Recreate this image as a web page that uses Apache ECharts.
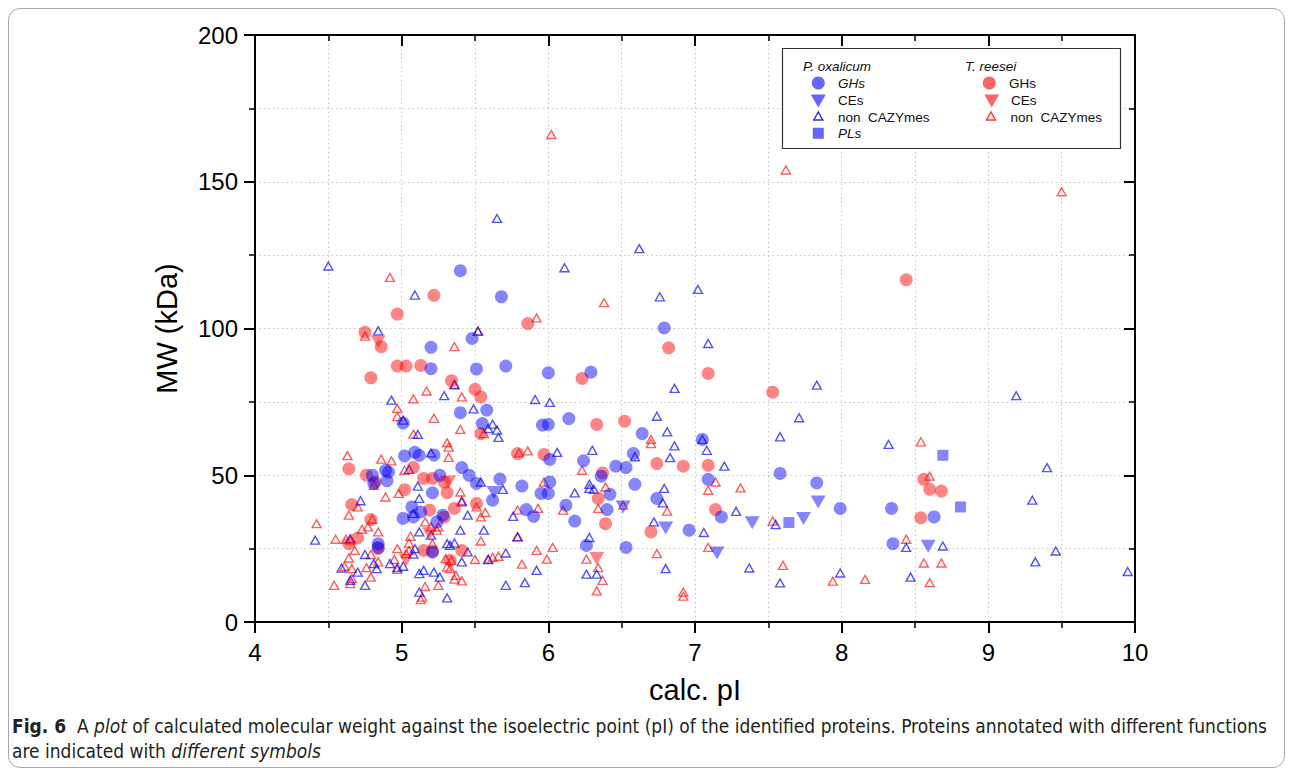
<!DOCTYPE html>
<html><head><meta charset="utf-8">
<script src="https://cdn.jsdelivr.net/npm/echarts@6/dist/echarts.min.js"></script>
<style>
html,body{margin:0;padding:0;background:#fff;}
#frame{position:absolute;left:8px;top:8px;width:1277px;height:760px;border:1px solid #a8a8a8;border-radius:12px;box-sizing:border-box;}
#chart{position:absolute;left:0;top:0;width:1292px;height:776px;}
#cap{position:absolute;left:12px;top:714px;white-space:nowrap;font-family:"Liberation Sans Narrow","DejaVu Sans Condensed",sans-serif;font-size:19px;line-height:25px;color:#231f20;}
</style></head>
<body>
<div id="frame"></div>
<div id="chart"></div>
<div id="cap"><b>Fig. 6</b>&nbsp; A <i>plot</i> of calculated molecular weight against the isoelectric point (pI) of the identified proteins. Proteins annotated with different functions<br>are indicated with <i>different symbols</i></div>
<script>
// ---- data: [calc. pI, MW (kDa)] ----
const poxGHs = [
 [5.40,119.7],[5.68,110.8],[5.48,96.6],[5.20,93.6],[5.20,86.3],[5.51,86.2],[5.71,87.2],[6.00,84.9],
 [6.29,85.1],[6.79,100.2],[5.40,71.3],[5.58,72.2],[5.55,67.6],[5.96,67.1],[6.00,67.3],[6.14,69.3],
 [6.64,64.2],[7.05,62.2],[6.58,57.4],[5.01,67.8],[5.02,56.6],[5.09,57.8],[5.12,56.8],[5.22,56.9],
 [6.01,55.4],[6.24,54.9],[5.41,52.6],[5.46,50.0],[4.80,50.0],[4.81,47.2],[4.89,51.7],[4.91,51.1],
 [4.90,48.1],[5.26,50.0],[5.21,44.0],[5.51,47.2],[5.67,48.7],[5.62,41.5],[5.82,46.3],[5.95,43.8],
 [6.00,43.8],[6.01,47.7],[5.85,38.3],[5.90,36.0],[6.12,39.8],[6.18,34.4],[6.36,49.7],[6.42,43.5],
 [6.40,38.3],[6.46,53.1],[6.53,52.6],[6.59,46.9],[6.26,26.1],[6.53,25.4],[6.74,42.1],[6.96,31.3],
 [7.09,48.6],[7.18,35.8],[7.58,50.6],[7.83,47.4],[7.99,38.7],[8.34,38.7],[8.63,35.8],[8.35,26.7],
 [5.07,39.2],[5.13,37.5],[5.01,35.3],[5.08,35.8],[5.28,36.4],[5.24,34.1],[4.84,26.7],[4.84,25.4],
 [5.21,23.8]
];
const poxCEs = [[5.63,44.1],[6.51,39.2],[6.80,32.0],[7.15,23.5],[7.39,33.8],[7.74,35.3],[7.84,40.9],[8.59,25.8]];
const poxPLs = [[7.64,33.9],[8.69,56.8],[8.81,39.2]];
const poxNon = [
 [4.50,121.3],[5.09,111.4],[5.65,137.5],[6.11,120.7],[6.62,127.2],[6.76,110.8],[7.02,113.3],[4.84,99.2],
 [5.52,99.1],[5.36,80.8],[5.29,77.1],[4.93,75.6],[5.01,68.8],[5.11,63.9],[5.20,57.6],[5.49,72.6],
 [5.62,67.4],[5.59,65.9],[5.65,65.4],[5.66,62.9],[5.91,75.8],[6.01,74.8],[6.06,57.8],[6.30,58.5],
 [6.59,56.3],[7.09,94.9],[6.86,79.6],[7.83,80.7],[7.71,69.6],[7.58,63.1],[6.74,70.1],[6.81,64.8],
 [6.86,60.0],[7.05,62.2],[7.08,58.5],[6.83,56.0],[7.20,53.1],[9.19,77.1],[8.32,60.5],[9.40,52.6],
 [9.30,41.5],[9.32,20.5],[9.46,24.2],[9.95,17.2],[8.44,25.4],[8.69,25.9],[7.99,16.7],[8.47,15.3],
 [7.55,33.2],[7.58,13.3],[7.37,18.4],[6.80,18.2],[7.06,30.5],[7.28,37.7],[6.79,45.5],[6.78,40.6],
 [6.72,34.1],[6.28,46.9],[6.28,45.5],[6.31,45.2],[6.18,44.0],[6.28,28.8],[6.26,16.3],[6.33,16.3],
 [5.79,29.0],[5.92,17.6],[5.84,13.4],[5.71,12.5],[5.71,23.5],[5.59,21.3],[5.76,36.0],[5.56,31.3],
 [5.45,36.4],[5.54,47.7],[5.69,45.2],[5.41,40.9],[5.40,31.3],[5.36,26.9],[5.33,26.1],[5.45,23.9],
 [5.41,20.5],[5.31,8.2],[5.31,26.7],[5.05,52.0],[5.11,46.3],[5.12,42.1],[5.08,37.0],[5.12,30.7],
 [5.20,29.6],[5.12,16.5],[5.15,17.6],[5.22,17.0],[5.26,15.3],[5.12,10.2],[4.72,41.3],[4.41,27.9],
 [4.65,28.4],[4.75,23.0],[4.81,19.9],[4.83,18.2],[4.70,17.0],[4.59,18.4],[4.65,14.2],[4.75,12.5],
 [4.92,19.9],[4.97,18.5],[5.01,19.0],[5.09,25.0],[5.08,23.1]
];
const treGHs = [
 [5.22,111.3],[4.97,104.9],[5.86,101.7],[4.75,98.7],[4.86,93.8],[4.97,87.2],[5.03,87.2],[5.13,87.4],
 [4.79,83.2],[5.34,82.2],[5.50,79.3],[5.54,76.7],[5.54,64.2],[6.23,83.0],[6.33,67.3],[6.52,68.4],
 [6.82,93.4],[7.09,84.7],[7.53,78.3],[8.44,116.6],[5.79,57.4],[5.97,57.1],[6.74,54.0],[6.92,53.1],
 [7.09,53.4],[4.64,52.2],[4.76,50.0],[4.82,47.7],[5.08,52.7],[5.02,45.1],[5.15,48.9],[5.21,48.9],
 [5.29,47.7],[5.31,44.1],[5.36,38.7],[5.29,35.7],[5.51,40.4],[5.19,38.1],[4.66,40.0],[4.79,34.9],
 [4.64,26.7],[4.70,28.6],[4.84,25.0],[5.15,24.4],[5.21,24.2],[5.41,24.4],[5.33,21.0],[6.37,50.8],
 [6.34,42.1],[6.39,33.5],[6.70,30.7],[7.14,38.3],[8.56,48.6],[8.60,45.2],[8.68,44.6],[8.54,35.5]
];
const treCEs = [[4.84,95.5],[5.32,47.7],[5.03,21.0],[5.19,30.1],[6.33,21.6]];
const treNon = [
 [4.92,117.4],[5.92,103.6],[6.02,166.1],[6.38,108.8],[7.62,154.0],[9.50,146.6],[5.52,99.1],[4.75,97.4],
 [5.36,93.8],[5.17,78.7],[5.08,76.0],[5.41,76.7],[5.36,81.0],[4.97,72.8],[4.97,70.0],[5.22,69.4],
 [5.08,64.0],[5.31,61.1],[5.32,59.6],[5.40,65.6],[5.56,64.2],[5.32,56.1],[4.63,56.7],[4.86,55.5],
 [4.93,54.9],[5.80,57.6],[5.86,58.3],[6.70,62.2],[6.70,60.8],[8.54,61.4],[5.02,51.7],[4.81,46.6],
 [4.89,42.6],[4.98,43.8],[5.40,44.3],[5.41,41.3],[5.51,39.2],[5.54,35.8],[5.57,37.3],[5.97,47.7],
 [5.79,38.1],[5.93,38.7],[6.10,38.1],[6.23,51.7],[6.39,46.0],[6.34,38.7],[6.51,39.8],[6.81,37.8],
 [7.14,47.7],[7.09,44.9],[7.31,45.7],[7.53,34.4],[8.60,49.7],[8.44,28.2],[8.56,20.1],[8.68,20.1],
 [7.94,13.9],[8.16,14.5],[8.60,13.4],[7.60,19.3],[7.09,25.4],[6.74,23.3],[6.92,10.2],[6.92,8.8],
 [6.26,21.4],[6.34,18.5],[6.37,14.2],[6.33,10.6],[5.82,19.7],[5.92,24.4],[5.99,21.4],[6.03,25.4],
 [5.54,27.6],[5.79,29.0],[5.50,21.3],[5.59,21.4],[5.62,22.0],[5.66,22.4],[5.34,21.0],[5.30,21.6],
 [5.33,18.2],[5.37,15.9],[5.41,14.0],[5.36,14.6],[5.21,26.7],[5.24,31.3],[5.16,34.1],[5.20,32.4],
 [5.25,32.4],[5.13,7.6],[5.14,8.5],[5.16,12.1],[5.25,12.5],[5.31,18.8],[5.05,26.9],[5.06,29.2],
 [5.05,24.4],[4.97,25.0],[4.95,21.3],[5.03,23.3],[4.97,17.9],[4.79,23.0],[4.84,20.5],[4.76,18.5],
 [4.79,15.3],[4.66,14.8],[4.65,13.1],[4.54,12.5],[4.68,24.4],[4.64,21.8],[4.61,19.0],[4.66,18.2],
 [4.73,31.6],[4.77,32.4],[4.84,30.7],[4.70,39.2],[4.64,36.4],[4.42,33.5],[4.55,28.2],[4.62,28.2],
 [4.65,27.9],[4.80,35.0]
];
const xRange = [4, 10], xStep = 1;
const yRange = [0, 200], yStep = 50;
const xTitle = 'calc. pI', yTitle = 'MW (kDa)';

const BLUE = 'rgba(0,0,255,0.6)', RED = 'rgba(255,0,0,0.6)';
const BLUE_L = 'rgba(0,0,255,0.85)', RED_L = 'rgba(255,0,0,0.8)';
const FONT = '"Liberation Sans", Arial, sans-serif';

const chart = echarts.init(document.getElementById('chart'), null, {renderer: 'svg'});
const grid = {left: 255, right: 157, top: 35, bottom: 154};
const gridLine = {show: true, lineStyle: {color: '#c4c4c4', width: 1, type: [1.5, 3]}};

function mkX(pos, main) {
  return {
    type: 'value', position: pos, min: xRange[0], max: xRange[1], interval: xStep,
    axisLine: {show: true, onZero: false, lineStyle: {color: '#000', width: 2}},
    axisTick: {show: true, inside: !main, length: 11, lineStyle: {color: '#000', width: 2}},
    minorTick: {show: true, splitNumber: 2, length: 6, lineStyle: {color: '#000', width: 1.5}},
    axisLabel: {show: main, fontSize: 24, color: '#000', fontFamily: FONT, margin: 18},
    splitLine: main ? gridLine : {show: false},
    minorSplitLine: main ? gridLine : {show: false},
    name: main ? xTitle : '', nameLocation: 'middle', nameGap: 53,
    nameTextStyle: {fontSize: 29, color: '#000', fontFamily: FONT}
  };
}
function mkY(pos, main) {
  return {
    type: 'value', position: pos, min: yRange[0], max: yRange[1], interval: yStep,
    axisLine: {show: true, onZero: false, lineStyle: {color: '#000', width: 2}},
    axisTick: {show: true, inside: !main, length: 11, lineStyle: {color: '#000', width: 2}},
    minorTick: {show: true, splitNumber: 2, length: 6, lineStyle: {color: '#000', width: 1.5}},
    axisLabel: {show: main, fontSize: 24, color: '#000', fontFamily: FONT, margin: 17},
    splitLine: main ? gridLine : {show: false},
    minorSplitLine: main ? gridLine : {show: false},
    name: main ? yTitle : '', nameLocation: 'middle', nameGap: 74, nameRotate: 90,
    nameTextStyle: {fontSize: 29, color: '#000', fontFamily: FONT}
  };
}

const hollow = (c) => ({color: 'rgba(255,255,255,0)', borderColor: c, borderWidth: 1.4});
const series = [
  {name: 'T. reesei non CAZYmes', data: treNon, symbol: 'triangle', symbolSize: [9, 8], itemStyle: hollow(RED_L)},
  {name: 'P. oxalicum non CAZYmes', data: poxNon, symbol: 'triangle', symbolSize: [9, 8], itemStyle: hollow(BLUE_L)},
  {name: 'T. reesei GHs', data: treGHs, symbol: 'circle', symbolSize: 13, itemStyle: {color: RED}},
  {name: 'P. oxalicum GHs', data: poxGHs, symbol: 'circle', symbolSize: 13, itemStyle: {color: BLUE}},
  {name: 'T. reesei CEs', data: treCEs, symbol: 'triangle', symbolRotate: 180, symbolSize: [15, 13], itemStyle: {color: RED}},
  {name: 'P. oxalicum CEs', data: poxCEs, symbol: 'triangle', symbolRotate: 180, symbolSize: [15, 13], itemStyle: {color: BLUE}},
  {name: 'P. oxalicum PLs', data: poxPLs, symbol: 'rect', symbolSize: 11, itemStyle: {color: BLUE}}
].map(s => Object.assign({type: 'scatter', xAxisIndex: 0, yAxisIndex: 0, emphasis: {disabled: true}}, s));

// legend drawn as graphic (box, symbols, labels)
function txt(x, y, t, italic) {
  return {type: 'text', x: x, y: y, style: {text: t, fill: '#111', font: (italic ? 'italic ' : '') + '13.5px ' + FONT, verticalAlign: 'middle', align: 'left'}, z: 100};
}
function downTri(cx, cy, c) {
  return {type: 'polygon', shape: {points: [[cx - 7.5, cy - 6.5], [cx + 7.5, cy - 6.5], [cx, cy + 6.5]]}, style: {fill: c}, z: 100};
}
function openTri(cx, cy, c) {
  return {type: 'polygon', shape: {points: [[cx - 4.5, cy + 4], [cx + 4.5, cy + 4], [cx, cy - 4]]}, style: {fill: 'none', stroke: c, lineWidth: 1.4}, z: 100};
}
const legendGraphic = [
  {type: 'rect', shape: {x: 782.5, y: 48.5, width: 338, height: 100}, style: {fill: '#fff', stroke: '#333', lineWidth: 1.2}, z: 99},
  txt(803, 66.5, 'P. oxalicum', true),
  {type: 'circle', shape: {cx: 818.3, cy: 83, r: 6.5}, style: {fill: BLUE}, z: 100},
  downTri(818.3, 101, BLUE),
  openTri(818.3, 116, BLUE_L),
  {type: 'rect', shape: {x: 812.8, y: 127.8, width: 11, height: 11}, style: {fill: BLUE}, z: 100},
  txt(838, 83.5, 'GHs', true),
  txt(838, 100.5, 'CEs', false),
  txt(838, 117, 'non\u00a0 CAZYmes', false),
  txt(838, 133.5, 'PLs', true),
  txt(965, 66.5, 'T. reesei', true),
  {type: 'circle', shape: {cx: 989.3, cy: 83, r: 6.5}, style: {fill: RED}, z: 100},
  downTri(991.7, 101, RED),
  openTri(991, 116, RED_L),
  txt(1009, 83.5, 'GHs', false),
  txt(1011, 100.5, 'CEs', false),
  txt(1010.5, 117, 'non\u00a0 CAZYmes', false)
];

chart.setOption({
  animation: false,
  backgroundColor: 'transparent',
  textStyle: {fontFamily: FONT},
  grid: grid,
  xAxis: [mkX('bottom', true), mkX('top', false)],
  yAxis: [mkY('left', true), mkY('right', false)],
  series: series,
  graphic: legendGraphic
});
</script>
</body></html>
